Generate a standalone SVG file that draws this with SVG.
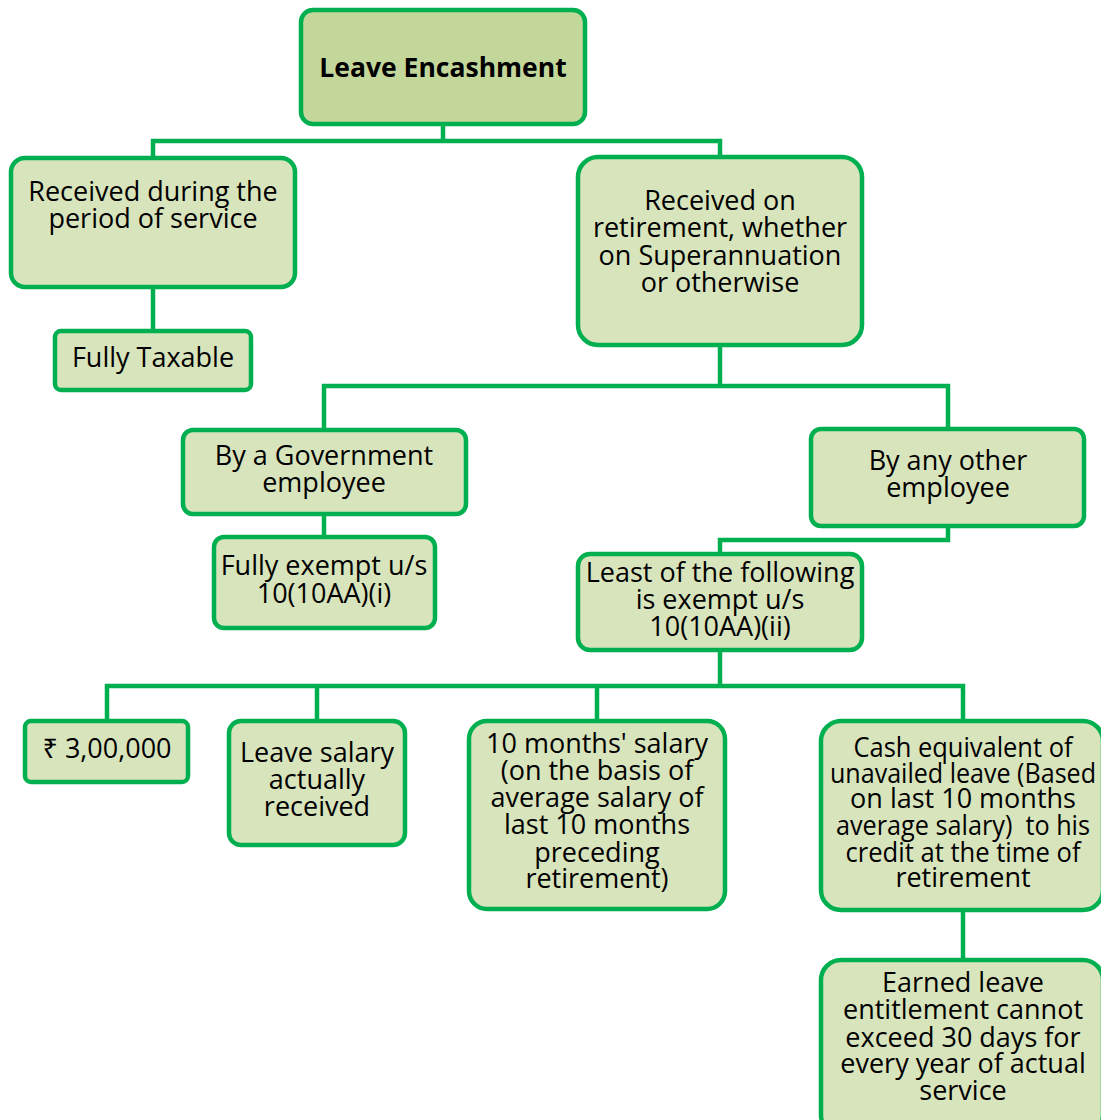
<svg xmlns="http://www.w3.org/2000/svg" width="1101" height="1120" viewBox="0 0 1101 1120">
<style>
.box{fill:#d8e4bc;stroke:#00b050;stroke-width:4.5}
.root{fill:#c4d79b;stroke:#00b050;stroke-width:4.5}
.c{fill:none;stroke:#00b050;stroke-width:4.5;stroke-linejoin:miter}
text{font-family:"Open Sans","Noto Sans",sans-serif;font-size:27px;fill:#000;text-anchor:middle}
.b{font-weight:bold;font-size:26.5px}
</style>
<rect width="1101" height="1120" fill="#fff"/>
<g id="connectors">
<path class="c" d="M443,124 V141 M153,158 V141 H720 V158"/>
<path class="c" d="M153,287 V331"/>
<path class="c" d="M720,345 V386 M324,430 V386 H948 V430"/>
<path class="c" d="M324,514 V537"/>
<path class="c" d="M948,526 V540 H720 V554"/>
<path class="c" d="M720,650 V686 M107,721 V686 H963 V721 M317,686 V721 M597,686 V721"/>
<path class="c" d="M963,910 V960"/>
</g>
<g id="root"><rect class="root" x="301" y="10" width="284" height="114" rx="12"/><text class="b" x="443" y="77">Leave Encashment</text></g>
<g id="during"><rect class="box" x="11" y="158" width="284" height="129" rx="14"/><text x="153" y="201">Received during the</text><text x="153" y="228">period of service</text></g>
<g id="taxable"><rect class="box" x="55" y="331" width="196" height="59" rx="6"/><text x="153" y="367">Fully Taxable</text></g>
<g id="retirement"><rect class="box" x="578" y="157" width="284" height="188" rx="20"/><text x="720" y="210">Received on</text><text x="720" y="237">retirement, whether</text><text x="720" y="265">on Superannuation</text><text x="720" y="292">or otherwise</text></g>
<g id="govt"><rect class="box" x="183" y="430" width="283" height="84" rx="10"/><text x="324" y="465">By a Government</text><text x="324" y="492">employee</text></g>
<g id="exempt1"><rect class="box" x="214" y="537" width="221" height="91" rx="10"/><text x="324" y="575">Fully exempt u/s</text><text x="324" y="603">10(10AA)(i)</text></g>
<g id="other"><rect class="box" x="811" y="429" width="273" height="97" rx="10"/><text x="948" y="470">By any other</text><text x="948" y="497">employee</text></g>
<g id="least"><rect class="box" x="578" y="554" width="284" height="96" rx="12"/><text x="720" y="582">Least of the following</text><text x="720" y="609">is exempt u/s</text><text x="720" y="636">10(10AA)(ii)</text></g>
<g id="amount"><rect class="box" x="25" y="721" width="163" height="61" rx="6"/><text x="107" y="758">₹ 3,00,000</text></g>
<g id="leavesalary"><rect class="box" x="229" y="721" width="176" height="124" rx="12"/><text x="317" y="762">Leave salary</text><text x="317" y="789">actually</text><text x="317" y="816">received</text></g>
<g id="tenmonths"><rect class="box" x="469" y="721" width="256" height="188" rx="18"/><text x="597" y="753">10 months' salary</text><text x="597" y="780">(on the basis of</text><text x="597" y="807">average salary of</text><text x="597" y="834">last 10 months</text><text x="597" y="862">preceding</text><text x="597" y="888">retirement)</text></g>
<g id="cash"><rect class="box" x="821" y="721" width="282" height="189" rx="20"/><text x="963" y="757" textLength="219" lengthAdjust="spacingAndGlyphs">Cash equivalent of</text><text x="963" y="783" textLength="266" lengthAdjust="spacingAndGlyphs">unavailed leave (Based</text><text x="963" y="808">on last 10 months</text><text x="963" y="835" xml:space="preserve" textLength="254" lengthAdjust="spacingAndGlyphs">average salary)  to his</text><text x="963" y="862" textLength="235" lengthAdjust="spacingAndGlyphs">credit at the time of</text><text x="963" y="887">retirement</text></g>
<g id="earned"><rect class="box" x="821" y="960" width="282" height="175" rx="20"/><text x="963" y="992">Earned leave</text><text x="963" y="1019">entitlement cannot</text><text x="963" y="1047">exceed 30 days for</text><text x="963" y="1073">every year of actual</text><text x="963" y="1100">service</text></g>
</svg>
